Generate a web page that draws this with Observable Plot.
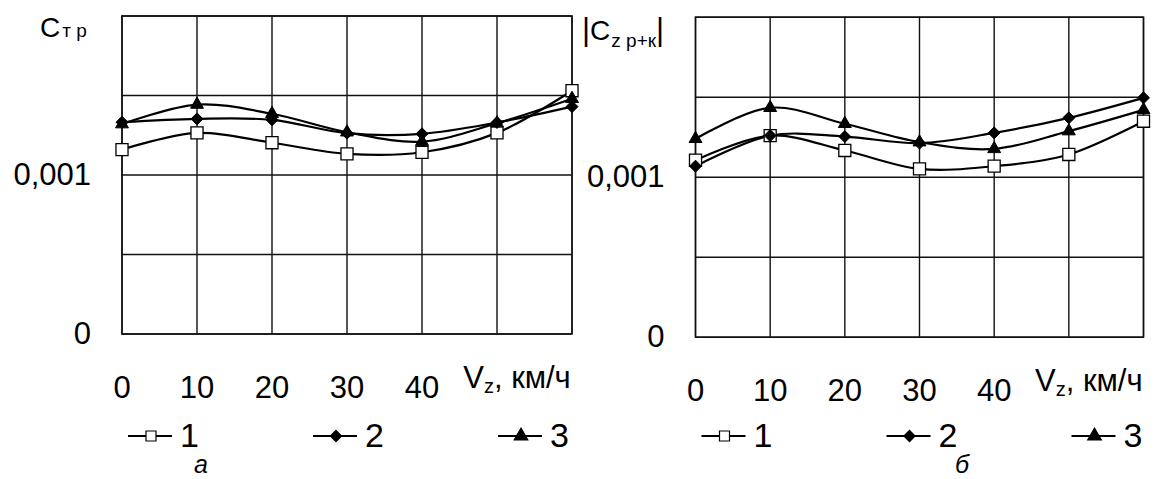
<!DOCTYPE html>
<html>
<head>
<meta charset="utf-8">
<script src="https://cdn.jsdelivr.net/npm/d3@7"></script>
<script src="https://cdn.jsdelivr.net/npm/@observablehq/plot@0.6"></script>
<style>
  body { margin: 0; background: #fff; }
  #wrap { position: relative; width: 1157px; height: 479px; overflow: hidden; background: #fff;
          font-family: Arial, "Liberation Sans", sans-serif; }
  .panel { position: absolute; top: 0; }
  #overlay { position: absolute; left: 0; top: 0; pointer-events: none; }
</style>
</head>
<body>
<div id="wrap"></div>
<script>
// ---- data ----
const speeds = [0, 10, 20, 30, 40, 50, 60];
const xTicks = [0, 10, 20, 30, 40];
const yTicks = [0, 0.001];
const yGrid = [0, 0.0005, 0.001, 0.0015, 0.002];
const seriesNames = ["1", "2", "3"];
const xLabel = "Vz, км/ч";

// panel а: C т р
const ctr1 = [0.00116, 0.001265, 0.001203, 0.001133, 0.001143, 0.001265, 0.00153];
const ctr2 = [0.001332, 0.001353, 0.001347, 0.001263, 0.001259, 0.00133, 0.00143];
const ctr3 = [0.00132, 0.001443, 0.001385, 0.001269, 0.00121, 0.001326, 0.00148];

// panel б: |C z р+к|
const cz1 = [0.001106, 0.00126, 0.001167, 0.001052, 0.001069, 0.001142, 0.00135];
const cz2 = [0.001069, 0.00126, 0.001254, 0.001213, 0.001277, 0.001371, 0.001496];
const cz3 = [0.00124, 0.001434, 0.001334, 0.001219, 0.001177, 0.001288, 0.001421];

function toRows(arrs) {
  return seriesNames.flatMap((s, i) => speeds.map((v, j) => ({ v, c: arrs[i][j], s })));
}

const FONT = 'Arial, "Liberation Sans", sans-serif';

function makePanel(rows, m) {
  const svg = Plot.plot({
    width: m.width, height: 479,
    marginLeft: m.left, marginRight: m.right, marginTop: m.top, marginBottom: m.bottom,
    style: { fontFamily: FONT, fontSize: "31px", color: "#000", background: "transparent", overflow: "visible" },
    x: { domain: [0, 60], ticks: xTicks, tickSize: 0, tickPadding: 41.5, tickFormat: d => String(d), label: null },
    y: { domain: [0, 0.002], ticks: yTicks, tickSize: 0, tickPadding: 31,
         tickFormat: d => String(d).replace(".", ","), label: null },
    marks: [
      Plot.gridX(speeds, { stroke: "#111", strokeOpacity: 1, strokeWidth: 1.4 }),
      Plot.gridY(yGrid, { stroke: "#111", strokeOpacity: 1, strokeWidth: 1.4 }),
      Plot.frame({ stroke: "#111", strokeWidth: 1.5 }),
      Plot.line(rows, { x: "v", y: "c", z: "s", curve: "catmull-rom", stroke: "#000", strokeWidth: 2.2 }),
      Plot.dot(rows.filter(d => d.s === "1"), { x: "v", y: "c", symbol: "square", r: 6.8, fill: "#fff", stroke: "#000", strokeWidth: 1.3 }),
      Plot.dot(rows.filter(d => d.s === "2"), { x: "v", y: "c", symbol: "diamond2", r: 5.4, fill: "#000", stroke: "#000", strokeWidth: 1 }),
      Plot.dot(rows.filter(d => d.s === "3"), { x: "v", y: "c", symbol: "triangle", r: 4.8, fill: "#000", stroke: "#000", strokeWidth: 1 }),
      Plot.text([xLabel], { x: 50, text: d => d, frameAnchor: "bottom", dy: 53.5, dx: 20, fontSize: 31, fill: "#000" })
    ]
  });
  // subscript z in the axis label
  svg.querySelectorAll("text").forEach(t => {
    if (t.textContent === xLabel) {
      t.textContent = "";
      const ns = "http://www.w3.org/2000/svg";
      const a = document.createElementNS(ns, "tspan"); a.textContent = "V";
      const b = document.createElementNS(ns, "tspan"); b.textContent = "z"; b.setAttribute("font-size", "20"); b.setAttribute("dy", "5");
      const c = document.createElementNS(ns, "tspan"); c.textContent = ", км/ч"; c.setAttribute("dy", "-5");
      t.append(a, b, c);
    }
  });
  svg.classList.add("panel");
  svg.style.left = m.x + "px";
  return svg;
}

const wrap = document.getElementById("wrap");
wrap.append(makePanel(toRows([ctr1, ctr2, ctr3]), { x: 0, width: 580, left: 121.5, right: 8.5, top: 15.5, bottom: 145.5 }));
wrap.append(makePanel(toRows([cz1, cz2, cz3]), { x: 580, width: 577, left: 115, right: 14, top: 16.7, bottom: 142.3 }));

// ---- overlay: titles, legends, captions ----
const ov = d3.select(wrap).append("svg").attr("id", "overlay").attr("width", 1157).attr("height", 479)
  .style("font-family", FONT).attr("fill", "#000");

const t1 = ov.append("text").attr("x", 40).attr("y", 37);
t1.append("tspan").attr("font-size", 28).text("C");
t1.append("tspan").attr("font-size", 19).attr("dx", 2).text("т р");

const t2 = ov.append("text").attr("x", 582).attr("y", 40);
t2.append("tspan").attr("font-size", 31).text("|");
t2.append("tspan").attr("font-size", 28).text("C");
t2.append("tspan").attr("font-size", 19).attr("dy", 7).attr("dx", 1).text("z р+к");
t2.append("tspan").attr("font-size", 31).attr("dy", -7).text("|");

const symbolsLegend = [
  { type: d3.symbolSquare, size: 100, fill: "#fff" },
  { type: d3.symbolDiamond2, size: 80, fill: "#000" },
  { type: d3.symbolTriangle, size: 80, fill: "#000" }
];
const itemOffsets = [6.5, 191.5, 376.5];
function legend(plotLeft) {
  seriesNames.forEach((name, i) => {
    const x0 = plotLeft + itemOffsets[i];
    const g = ov.append("g");
    g.append("line").attr("x1", x0).attr("x2", x0 + 44).attr("y1", 436).attr("y2", 436)
      .attr("stroke", "#000").attr("stroke-width", 2);
    g.append("path").attr("d", d3.symbol(symbolsLegend[i].type, symbolsLegend[i].size)())
      .attr("transform", `translate(${x0 + 23},436)`)
      .attr("fill", symbolsLegend[i].fill).attr("stroke", "#000").attr("stroke-width", 1.2);
    g.append("text").attr("x", x0 + 52).attr("y", 447).attr("font-size", 34).text(name);
  });
}
legend(121.5);
legend(695);

ov.append("text").attr("x", 201).attr("y", 473).attr("text-anchor", "middle")
  .attr("font-size", 25).attr("font-style", "italic").text("а");
ov.append("text").attr("x", 962).attr("y", 473).attr("text-anchor", "middle")
  .attr("font-size", 25).attr("font-style", "italic").text("б");
</script>
</body>
</html>
